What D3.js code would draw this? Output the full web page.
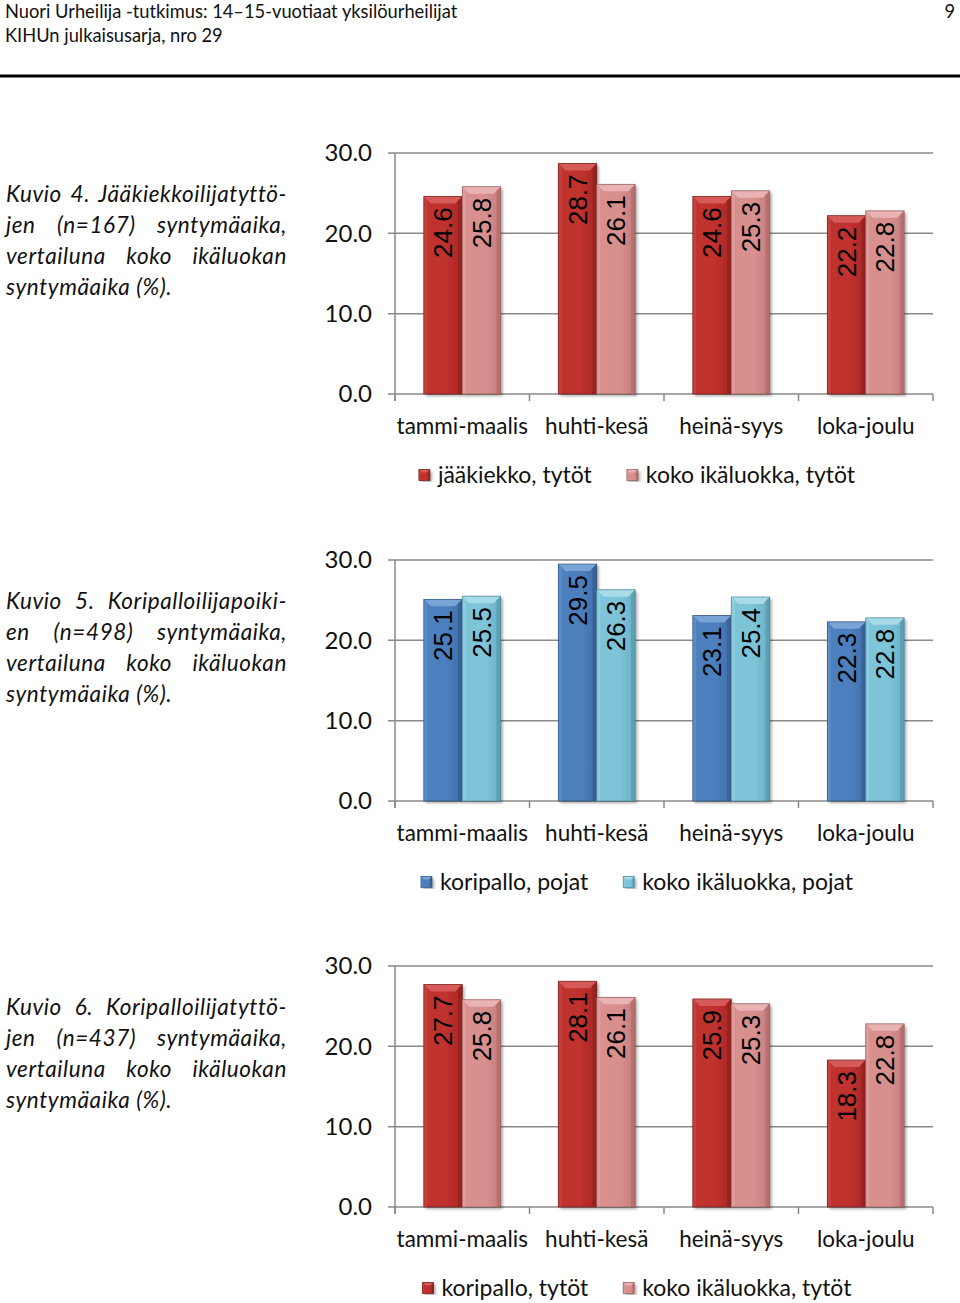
<!DOCTYPE html>
<html>
<head>
<meta charset="utf-8">
<script src="https://cdn.jsdelivr.net/npm/d3@7"></script>
<style>
  html, body { margin: 0; padding: 0; background: #fff; }
  svg { display: block; }
</style>
</head>
<body>
<svg id="page" width="960" height="1303"></svg>
<script>
// ---------------- data ----------------
const headerLines = ["Nuori Urheilija -tutkimus: 14–15-vuotiaat yksilöurheilijat", "KIHUn julkaisusarja, nro 29"];
const pageNumber = "9";
const categories = ["tammi-maalis", "huhti-kesä", "heinä-syys", "loka-joulu"];
const yTicks = [0, 10, 20, 30];

const hockeyGirls = [24.6, 28.7, 24.6, 22.2];
const ageGroupGirlsA = [25.8, 26.1, 25.3, 22.8];
const basketballBoys = [25.1, 29.5, 23.1, 22.3];
const ageGroupBoys = [25.5, 26.3, 25.4, 22.8];
const basketballGirls = [27.7, 28.1, 25.9, 18.3];
const ageGroupGirlsB = [25.8, 26.1, 25.3, 22.8];

const seriesNames1 = ["jääkiekko, tytöt", "koko ikäluokka, tytöt"];
const seriesNames2 = ["koripallo, pojat", "koko ikäluokka, pojat"];
const seriesNames3 = ["koripallo, tytöt", "koko ikäluokka, tytöt"];

const caption1 = ["Kuvio 4. Jääkiekkoilijatyttö-", "jen (n=167) syntymäaika,", "vertailuna koko ikäluokan", "syntymäaika (%)."];
const caption2 = ["Kuvio 5. Koripalloilijapoiki-", "en (n=498) syntymäaika,", "vertailuna koko ikäluokan", "syntymäaika (%)."];
const caption3 = ["Kuvio 6. Koripalloilijatyttö-", "jen (n=437) syntymäaika,", "vertailuna koko ikäluokan", "syntymäaika (%)."];

// ---------------- styles / layout ----------------
const palettes = {
  red:  { base: "#bf302e", light: "#d65a57", dark: "#8e1f1d", stroke: "#6e1a18" },
  pink: { base: "#d8908f", light: "#e8b3b2", dark: "#b06a69", stroke: "#8a5554" },
  blue: { base: "#4c7fbd", light: "#7aa3d6", dark: "#345d90", stroke: "#2c4d78" },
  aqua: { base: "#7ec4d8", light: "#a8dbe8", dark: "#5698ad", stroke: "#467f91" }
};

const charts = [
  { top: 153, caption: caption1, series: [hockeyGirls, ageGroupGirlsA], names: seriesNames1, pal: ["red", "pink"] },
  { top: 560, caption: caption2, series: [basketballBoys, ageGroupBoys], names: seriesNames2, pal: ["blue", "aqua"] },
  { top: 966, caption: caption3, series: [basketballGirls, ageGroupGirlsB], names: seriesNames3, pal: ["red", "pink"] }
];

const svg = d3.select("#page");
const FONT = 'Lato, "Open Sans", sans-serif';

// header
svg.append("text").attr("x", 5).attr("y", 18).attr("font-family", FONT).attr("font-size", 18.3).attr("fill", "#111").text(headerLines[0]);
svg.append("text").attr("x", 5).attr("y", 42).attr("font-family", FONT).attr("font-size", 18.3).attr("fill", "#111").text(headerLines[1]);
svg.append("text").attr("x", 955).attr("y", 18).attr("text-anchor", "end").attr("font-family", FONT).attr("font-size", 18.3).attr("fill", "#111").text(pageNumber);
svg.append("rect").attr("x", 0).attr("y", 74.5).attr("width", 960).attr("height", 3).attr("fill", "#000");

// gradients
const defs = svg.append("defs");
Object.entries(palettes).forEach(([k, p]) => {
  const g = defs.append("linearGradient").attr("id", "g-" + k).attr("x1", 0).attr("x2", 1).attr("y1", 0).attr("y2", 0);
  g.append("stop").attr("offset", "0%").attr("stop-color", p.base);
  g.append("stop").attr("offset", "60%").attr("stop-color", p.base);
  g.append("stop").attr("offset", "100%").attr("stop-color", d3.interpolateRgb(p.base, p.dark)(0.5));
});
const shadow = defs.append("filter").attr("id", "shadow").attr("x", "-20%").attr("y", "-5%").attr("width", "150%").attr("height", "115%");
shadow.append("feDropShadow").attr("dx", 2).attr("dy", 2).attr("stdDeviation", 1.5).attr("flood-color", "#000").attr("flood-opacity", 0.35);

function bevelBar(g, x, y, w, h, pal, b) {
  const p = palettes[pal];
  const gg = g.append("g");
  gg.append("rect").attr("x", x).attr("y", y).attr("width", w).attr("height", h)
    .attr("fill", "url(#g-" + pal + ")").attr("filter", "url(#shadow)");
  const bb = Math.min(b, h / 2, w / 2);
  gg.append("polygon").attr("points", [[x, y], [x + w, y], [x + w - bb, y + bb], [x + bb, y + bb]].map(d => d.join(",")).join(" "))
    .attr("fill", p.light);
  gg.append("polygon").attr("points", [[x, y], [x + bb * 0.5, y + bb * 0.5], [x + bb * 0.5, y + h], [x, y + h]].map(d => d.join(",")).join(" "))
    .attr("fill", d3.interpolateRgb(p.base, p.light)(0.35));
  gg.append("polygon").attr("points", [[x + w, y], [x + w - bb * 0.6, y + bb * 0.6], [x + w - bb * 0.6, y + h], [x + w, y + h]].map(d => d.join(",")).join(" "))
    .attr("fill", p.dark).attr("opacity", 0.7);
  gg.append("rect").attr("x", x).attr("y", y).attr("width", w).attr("height", h)
    .attr("fill", "none").attr("stroke", p.stroke).attr("stroke-width", 0.8).attr("stroke-opacity", 0.8);
}

function justifyLine(t, width) {
  const txt = t.text();
  const gaps = (txt.match(/ /g) || []).length;
  const natural = t.node().getComputedTextLength();
  if (gaps > 0) t.attr("word-spacing", Math.max(0, (width - natural) / gaps));
}

charts.forEach((c) => {
  const g = svg.append("g");
  const x = d3.scaleBand().domain(categories).range([395, 933]).paddingInner(0).paddingOuter(0);
  const x1 = d3.scaleBand().domain([0, 1]).range([0, x.bandwidth()]).paddingInner(0).paddingOuter(0.75);
  const y = d3.scaleLinear().domain([0, 30]).range([c.top + 241, c.top]);

  // caption
  c.caption.forEach((line, i) => {
    const t = g.append("text").attr("x", 6).attr("y", c.top + 49 + i * 31)
      .attr("font-family", FONT).attr("font-style", "italic").attr("font-size", 22.5)
      .attr("letter-spacing", 0.6).attr("fill", "#111").text(line);
    if (i < c.caption.length - 1) justifyLine(t, 281);
  });

  // gridlines
  g.selectAll(".grid").data(yTicks).join("line")
    .attr("x1", 388).attr("x2", 933).attr("y1", d => y(d)).attr("y2", d => y(d))
    .attr("stroke", "#8a8a8a").attr("stroke-width", 1.5);
  g.append("line").attr("x1", 395).attr("x2", 395).attr("y1", y(30)).attr("y2", y(0) + 7)
    .attr("stroke", "#8a8a8a").attr("stroke-width", 1.5);
  const bounds = categories.map(d => x(d)).concat([933]);
  g.selectAll(".ct").data(bounds).join("line")
    .attr("x1", d => d).attr("x2", d => d).attr("y1", y(0)).attr("y2", y(0) + 7)
    .attr("stroke", "#8a8a8a").attr("stroke-width", 1.5);

  // y labels
  g.selectAll(".yl").data(yTicks).join("text")
    .attr("x", 372).attr("y", d => y(d)).attr("dy", "0.35em").attr("text-anchor", "end")
    .attr("font-family", FONT).attr("font-size", 24).attr("fill", "#111")
    .text(d => d3.format(".1f")(d));

  // category labels
  g.selectAll(".xl").data(categories).join("text")
    .attr("x", d => x(d) + x.bandwidth() / 2).attr("y", y(0) + 40).attr("text-anchor", "middle")
    .attr("font-family", FONT).attr("font-size", 22.5).attr("fill", "#111").text(d => d);

  // bars
  c.series.forEach((vals, si) => {
    vals.forEach((v, ci) => {
      const bx = x(categories[ci]) + x1(si);
      bevelBar(g, bx, y(v), x1.bandwidth(), y(0) - y(v), c.pal[si], 7);
    });
  });
  // value labels
  c.series.forEach((vals, si) => {
    vals.forEach((v, ci) => {
      const cx = x(categories[ci]) + x1(si) + x1.bandwidth() / 2 + 9.3;
      g.append("text").attr("transform", `translate(${cx},${y(v) + 11}) rotate(-90)`)
        .attr("text-anchor", "end").attr("font-family", '"Liberation Sans", Arial, sans-serif')
        .attr("font-size", 26).attr("fill", "#000").text(d3.format(".1f")(v));
    });
  });

  // legend
  const lg = g.append("g");
  const ly = y(0) + 81;
  const items = c.names.map((n, i) => {
    const t = lg.append("text").attr("y", ly + 8).attr("font-family", FONT).attr("font-size", 23).attr("fill", "#111").text(n);
    return { t, w: t.node().getComputedTextLength(), pal: c.pal[i] };
  });
  const total = items.reduce((s, it) => s + 19 + it.w, 0) + 35;
  let lx = 637 - total / 2;
  items.forEach((it) => {
    bevelBar(lg, lx, ly - 5.5, 11, 11, it.pal, 3);
    it.t.attr("x", lx + 19);
    lx += 19 + it.w + 35;
  });
});
</script>
</body>
</html>
